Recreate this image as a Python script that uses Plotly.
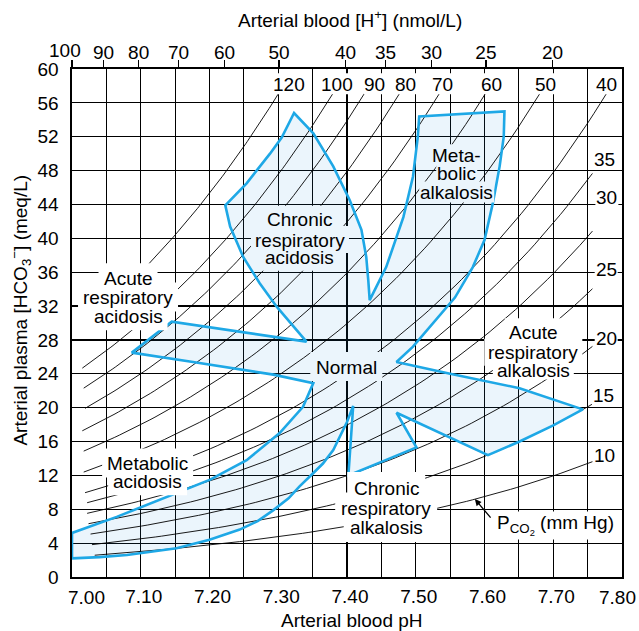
import numpy as np
import plotly.graph_objects as go

# ---------------- data ----------------
ph_ticks = [7.00, 7.10, 7.20, 7.30, 7.40, 7.50, 7.60, 7.70, 7.80]
ph_ticktext = ["", "7.10", "7.20", "7.30", "7.40", "7.50", "7.60", "7.70", ""]
first_ph_label = "7.00"
last_ph_label = "7.80"
ph_minor = [7.05, 7.15, 7.25, 7.35, 7.45, 7.55, 7.65, 7.75]
hco3_ticks = [0, 4, 8, 12, 16, 20, 24, 28, 32, 36, 40, 44, 48, 52, 56, 60]
h_ion_ticks = [100, 90, 80, 70, 60, 50, 40, 35, 30, 25, 20]  # nmol/L

# PCO2 isopleths (mm Hg) and where each drawn line starts (pH)
pco2_top = [120, 100, 90, 80, 70, 60, 50, 40]          # run up to the top label row
pco2_top_start = [7.110, 7.015, 7.017, 7.019, 7.015, 7.017, 7.017, 7.019]
pco2_right = [35, 30, 25, 20, 15, 10]                   # run to the right label column
pco2_right_start = [7.022, 7.022, 7.024, 7.027, 7.029, 7.033]
top_line_end_hco3 = 57.2
right_line_end_ph = 7.757

# outline of the shaded regions (pH, HCO3- meq/L)
boundary_ph = [7.000, 7.040, 7.080, 7.120, 7.152, 7.200, 7.244, 7.270, 7.293, 7.315,
               7.331, 7.350, 7.365, 7.380, 7.390, 7.400, 7.409,
               7.402, 7.450, 7.501, 7.472, 7.605, 7.651, 7.700, 7.743,
               7.651, 7.550, 7.472, 7.496, 7.530, 7.557, 7.583, 7.600, 7.612, 7.622,
               7.628, 7.629, 7.505, 7.503, 7.496, 7.482, 7.457, 7.433,
               7.431, 7.428, 7.421, 7.404, 7.380, 7.351, 7.323,
               7.305, 7.288, 7.254, 7.223, 7.230, 7.249, 7.273, 7.298, 7.322, 7.341,
               7.145, 7.087, 7.176, 7.293, 7.351,
               7.336, 7.302, 7.254, 7.201, 7.128, 7.065, 7.000, 7.000]
boundary_hco3 = [2.2, 2.35, 2.6, 3.0, 3.4, 4.4, 5.6, 6.6, 7.9, 9.3,
                 10.7, 12.2, 13.4, 15.0, 16.6, 18.3, 20.2,
                 12.0, 13.6, 15.3, 19.4, 14.4, 16.0, 17.9, 19.8,
                 22.3, 24.0, 25.4, 27.2, 30.5, 33.0, 36.6, 39.8, 44.1, 48.5,
                 52.0, 55.0, 54.4, 52.0, 47.3, 42.5, 36.6, 32.7,
                 35.0, 37.8, 41.0, 44.5, 48.5, 52.4, 54.8,
                 51.9, 50.0, 46.5, 43.9, 41.4, 37.8, 34.7, 31.9, 29.6, 27.8,
                 30.15, 26.5, 25.4, 23.9, 22.9,
                 20.1, 17.0, 13.8, 11.5, 9.1, 7.1, 5.2, 2.2]

# ---------------- styling ----------------
FONT = "Liberation Sans, Arial, Helvetica, sans-serif"
BLUE = "#1ea8e6"
FILL = "rgba(30,140,220,0.09)"
FILL_SOLID = "#EBF5FC"


def hco3_from(pco2, ph):
    # Henderson-Hasselbalch: pH = 6.1 + log10(HCO3 / (0.03 * PCO2))
    return 0.03 * pco2 * 10 ** (ph - 6.1)


fig = go.Figure()

fig.add_trace(go.Scatter(x=boundary_ph, y=boundary_hco3, mode="lines", fill="toself",
                         fillcolor=FILL, line=dict(width=0), hoverinfo="skip"))

for p, s in zip(pco2_top, pco2_top_start):
    end = 6.1 + np.log10(top_line_end_hco3 / (0.03 * p))
    ph = np.linspace(s, end, 80)
    fig.add_trace(go.Scatter(x=ph, y=hco3_from(p, ph), mode="lines",
                             line=dict(color="black", width=0.9), hoverinfo="skip"))
for p, s in zip(pco2_right, pco2_right_start):
    ph = np.linspace(s, right_line_end_ph, 80)
    fig.add_trace(go.Scatter(x=ph, y=hco3_from(p, ph), mode="lines",
                             line=dict(color="black", width=0.9), hoverinfo="skip"))

fig.add_trace(go.Scatter(x=boundary_ph, y=boundary_hco3, mode="lines",
                         line=dict(color=BLUE, width=2.6), hoverinfo="skip"))

fig.add_trace(go.Scatter(x=[7.0, 7.8], y=[0, 0], xaxis="x2", mode="markers",
                         marker=dict(opacity=0), hoverinfo="skip"))

ann = []
shapes = []


def label(text, x, y, w, bg="white", pad=2, padb=None, size=19, xanchor="center"):
    """text annotation + a masking rectangle (pixel-sized) underneath it"""
    padb = pad if padb is None else padb
    if xanchor == "center":
        x0, x1 = -w / 2 - pad, w / 2 + pad
    else:
        x0, x1 = -pad, w + pad
    shapes.append(dict(type="rect", xref="x", yref="y", xsizemode="pixel", ysizemode="pixel",
                       xanchor=x, yanchor=y, x0=x0, x1=x1, y0=-(9 + padb), y1=10 + pad,
                       fillcolor=bg, line=dict(width=0), layer="above"))
    ann.append(dict(text=text, x=x, y=y, xref="x", yref="y", showarrow=False,
                    font=dict(family=FONT, size=size, color="black"),
                    xanchor=xanchor, yanchor="middle"))


# isopleth labels (top row)
top_label_x = [7.3156, 7.385, 7.4407, 7.4844, 7.5396, 7.6105, 7.688, 7.7777]
for p, x in zip(pco2_top, top_label_x):
    label(str(p), x, 58.2, 32 if p >= 100 else 21, pad=1)
# isopleth labels (right column)
right_label_xy = [(7.775, 49.3), (7.778, 44.8), (7.777, 36.3), (7.777, 28.2), (7.773, 21.4), (7.775, 14.4)]
for p, (x, y) in zip(pco2_right, right_label_xy):
    label(str(p), x, y, 21, pad=1)

W = {"Acute": 49, "respiratory": 90, "acidosis": 69, "Chronic": 66, "Meta-": 49,
     "bolic": 39, "alkalosis": 73, "Normal": 62, "Metabolic": 81}

for t, y in zip(["Acute", "respiratory", "acidosis"], [35.3, 33.0, 30.8]):
    label(t, 7.0815, y, W[t], pad=5)
for t, y in zip(["Chronic", "respiratory", "acidosis"], [42.2, 39.8, 37.7]):
    label(t, 7.3316, y, W[t], bg=FILL_SOLID, pad=4)
for t, y in zip(["Meta-", "bolic", "alkalosis"], [49.8, 47.7, 45.4]):
    label(t, 7.5596, y, W[t], bg=FILL_SOLID, pad=1)
label("Normal", 7.399, 24.8, W["Normal"], bg=FILL_SOLID, pad=5)
for t, y, pb in zip(["Acute", "respiratory", "alkalosis"], [28.9, 26.5, 24.4], [4, 4, 0]):
    label(t, 7.671, y, W[t], pad=4, padb=pb)
for t, y in zip(["Metabolic", "acidosis"], [13.4, 11.3]):
    label(t, 7.110, y, W[t], pad=5)
for t, y in zip(["Chronic", "respiratory", "alkalosis"], [10.5, 8.1, 5.9]):
    label(t, 7.457, y, W[t], pad=6)
label("P<sub>CO<sub>2</sub></sub> (mm Hg)", 7.615, 6.2, 120, pad=3, padb=6, xanchor="left")

ann.append(dict(x=7.586, y=9.2, xref="x", yref="y", text="", showarrow=True,
                ax=17, ay=20, arrowhead=2, arrowsize=1, arrowwidth=1.3, arrowcolor="black"))

title_font = dict(family=FONT, size=19, color="black")
tick_font = dict(family=FONT, size=19, color="black")
common = dict(xref="paper", yref="paper", showarrow=False, xanchor="center", yanchor="middle")
ann.append(dict(text="Arterial blood [H<sup>+</sup>] (nmol/L)", x=0.5055, y=1.098,
                font=title_font, **common))
ann.append(dict(text="Arterial blood pH", x=0.509, y=-0.086, font=title_font, **common))
ann.append(dict(text="Arterial plasma [HCO<sub>3</sub><sup>\u2212</sup>] (meq/L)", x=-0.094, y=0.525,
                font=title_font, textangle=-90, **common))
ann.append(dict(text=first_ph_label, x=0.0255, y=-0.0413, font=tick_font, **common))
ann.append(dict(text=last_ph_label, x=0.9925, y=-0.0413, font=tick_font, **common))
ann.append(dict(text=str(h_ion_ticks[0]), x=-0.0127, y=1.0374, font=tick_font, **common))

h_ion_ph = [9 - np.log10(h) for h in h_ion_ticks]
h_ion_text = [""] + [str(h) for h in h_ion_ticks[1:]]

fig.update_layout(
    width=639, height=631,
    margin=dict(l=72, r=17, t=69, b=54, autoexpand=False),
    plot_bgcolor="white", paper_bgcolor="white",
    showlegend=False, hovermode=False,
    annotations=ann, shapes=shapes,
    xaxis=dict(range=[7.0, 7.8], tickvals=ph_ticks, ticktext=ph_ticktext,
               showgrid=True, gridcolor="black", gridwidth=1.2,
               minor=dict(tickvals=ph_minor, showgrid=True, gridcolor="black", gridwidth=1.2, ticks=""),
               showline=True, mirror=True, linecolor="black", linewidth=1.6,
               ticks="", ticklabelstandoff=2, ticklabelshift=3, tickfont=tick_font, zeroline=False),
    xaxis2=dict(range=[7.0, 7.8], overlaying="x", side="top", tickvals=h_ion_ph,
                ticktext=h_ion_text, ticks="outside", ticklen=8,
                tickwidth=1.2, tickcolor="black", showgrid=False, showline=False,
                tickfont=tick_font, zeroline=False, ticklabelstandoff=-7),
    yaxis=dict(range=[0, 60], tickvals=hco3_ticks, showgrid=True, gridcolor="black",
               gridwidth=1.2, showline=True, mirror=True, linecolor="black", linewidth=1.6,
               ticks="", ticklabelstandoff=8, tickfont=tick_font, zeroline=False),
)

# remove the default page margin so the 639x631 figure fills the window exactly
fig.write_html("out.html",
               config={"displayModeBar": False, "staticPlot": True},
               post_script="document.body.style.margin='0px';"
                           "document.documentElement.style.overflow='hidden';")
